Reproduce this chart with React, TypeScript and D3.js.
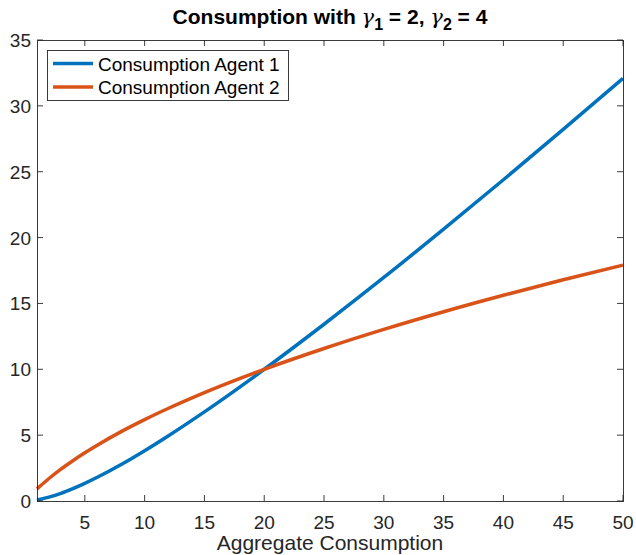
import React, { useEffect, useRef } from 'react'
import * as d3 from 'd3'

// aggregate consumption (x) and each agent's share
const aggregate = [1, 2, 3, 4, 5, 6, 8, 10, 12, 15, 20, 25, 30, 35, 40, 45, 50]
const agent1 = [0.08, 0.29, 0.58, 0.94, 1.34, 1.78, 2.75, 3.82, 4.96, 6.77, 10.0, 13.42, 16.97, 20.64, 24.39, 28.21, 32.09]
const agent2 = [0.92, 1.71, 2.42, 3.06, 3.66, 4.22, 5.25, 6.18, 7.04, 8.23, 10.0, 11.58, 13.03, 14.37, 15.62, 16.8, 17.91]
const seriesNames = ['Consumption Agent 1', 'Consumption Agent 2']
const seriesColors = ['#0072BD', '#D95319']
const xTicks = [5, 10, 15, 20, 25, 30, 35, 40, 45, 50]
const yTicks = [0, 5, 10, 15, 20, 25, 30, 35]

function App() {
    const svgRef = useRef(null)

    const width = 636
    const height = 555
    const left = 37
    const right = 623
    const top = 40
    const bottom = 501
    const font = "'Liberation Sans', Arial, Helvetica, sans-serif"

    useEffect(() => {
        const svg = d3.select(svgRef.current)
        svg.selectAll('*').remove()

        const x = d3.scaleLinear().domain([1, 50]).range([left, right])
        const y = d3.scaleLinear().domain([0, 35]).range([bottom, top])

        const axisColor = '#262626'
        const tickLen = 6

        // lines
        const series = [agent1, agent2]
        series.forEach((vals, i) => {
            const line = d3.line()
                .x((d, j) => x(aggregate[j]))
                .y(d => y(d))
                .curve(d3.curveMonotoneX)
            svg.append('path')
                .attr('d', line(vals))
                .attr('fill', 'none')
                .attr('stroke', seriesColors[i])
                .attr('stroke-width', 3.5)
        })

        // box
        svg.append('rect')
            .attr('x', left)
            .attr('y', top)
            .attr('width', right - left)
            .attr('height', bottom - top)
            .attr('fill', 'none')
            .attr('stroke', axisColor)
            .attr('stroke-width', 0.9)
            .attr('shape-rendering', 'crispEdges')

        const g = svg.append('g')

        xTicks.forEach(t => {
            g.append('line')
                .attr('x1', x(t)).attr('x2', x(t))
                .attr('y1', bottom).attr('y2', bottom - tickLen)
                .attr('stroke', axisColor).attr('stroke-width', 0.9)
            g.append('line')
                .attr('x1', x(t)).attr('x2', x(t))
                .attr('y1', top).attr('y2', top + tickLen)
                .attr('stroke', axisColor).attr('stroke-width', 0.9)
            g.append('text')
                .attr('x', x(t))
                .attr('y', bottom + 28)
                .attr('text-anchor', 'middle')
                .style('font-family', font)
                .style('font-size', '19px')
                .attr('fill', axisColor)
                .text(t)
        })

        yTicks.forEach(t => {
            g.append('line')
                .attr('x1', left).attr('x2', left + tickLen)
                .attr('y1', y(t)).attr('y2', y(t))
                .attr('stroke', axisColor).attr('stroke-width', 0.9)
            g.append('line')
                .attr('x1', right).attr('x2', right - tickLen)
                .attr('y1', y(t)).attr('y2', y(t))
                .attr('stroke', axisColor).attr('stroke-width', 0.9)
            g.append('text')
                .attr('x', left - 6)
                .attr('y', y(t) + 7)
                .attr('text-anchor', 'end')
                .style('font-family', font)
                .style('font-size', '19px')
                .attr('fill', axisColor)
                .text(t)
        })

        // x label
        svg.append('text')
            .attr('x', (left + right) / 2)
            .attr('y', 550)
            .attr('text-anchor', 'middle')
            .style('font-family', font)
            .style('font-size', '21px')
            .attr('fill', axisColor)
            .text('Aggregate Consumption')

        // title
        const title = svg.append('text')
            .attr('x', (left + right) / 2)
            .attr('y', 24)
            .attr('text-anchor', 'middle')
            .style('font-family', font)
            .style('font-size', '21px')
            .style('font-weight', 'bold')
            .attr('fill', '#000')
        title.append('tspan').text('Consumption with ')
        title.append('tspan').style('font-family', "'DejaVu Serif', serif").style('font-style', 'italic').style('font-weight', 'normal').text('γ')
        title.append('tspan').attr('dy', 6).style('font-size', '16px').text('1')
        title.append('tspan').attr('dy', -6).text(' = 2, ')
        title.append('tspan').style('font-family', "'DejaVu Serif', serif").style('font-style', 'italic').style('font-weight', 'normal').text('γ')
        title.append('tspan').attr('dy', 6).style('font-size', '16px').text('2')
        title.append('tspan').attr('dy', -6).text(' = 4')

        // legend
        const leg = svg.append('g')
        leg.append('rect')
            .attr('x', 47.5).attr('y', 50.5)
            .attr('width', 241).attr('height', 50)
            .attr('fill', '#fff')
            .attr('stroke', axisColor)
            .attr('stroke-width', 0.9)
        seriesNames.forEach((name, i) => {
            const cy = 63.5 + i * 23.5
            leg.append('line')
                .attr('x1', 53).attr('x2', 93)
                .attr('y1', cy).attr('y2', cy)
                .attr('stroke', seriesColors[i])
                .attr('stroke-width', 3.5)
            leg.append('text')
                .attr('x', 98)
                .attr('y', cy + 7)
                .style('font-family', font)
                .style('font-size', '19px')
                .attr('fill', '#000')
                .text(name)
        })
    }, [])

    return (
        <div style={{ position: 'absolute', left: 0, top: 0 }}>
            <svg ref={svgRef} width={width} height={height} style={{ display: 'block', background: '#fff' }} />
        </div>
    )
}

export default App
